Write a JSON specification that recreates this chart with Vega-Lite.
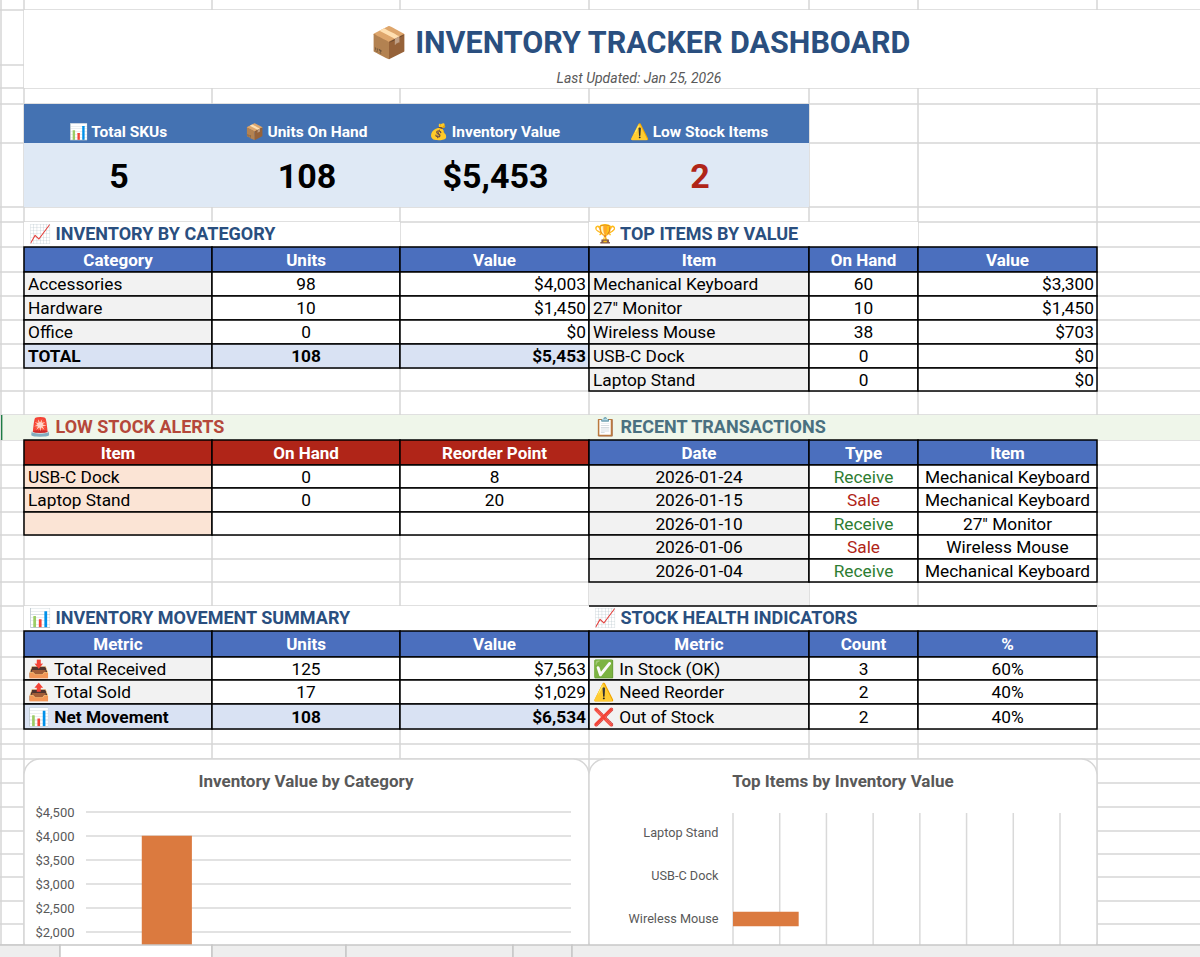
{"$schema":"https://vega.github.io/schema/vega-lite/v6.json","width":1200,"height":957,"autosize":"none","padding":0,"background":"#ffffff","view":{"stroke":null},
"datasets":{
"gridV":[{"c":0},{"c":1},{"c":2},{"c":3},{"c":4},{"c":5},{"c":6},{"c":7}],
"gridH":[{"r":1},{"r":2},{"r":3},{"r":4},{"r":5},{"r":6},{"r":7},{"r":8},{"r":9},{"r":10},{"r":11},{"r":12},{"r":13},{"r":14},{"r":15},{"r":16},{"r":17},{"r":18},{"r":19},{"r":20},{"r":21},{"r":22},{"r":23},{"r":24},{"r":25},{"r":26},{"r":27},{"r":28},{"r":29},{"r":30},{"r":31},{"r":32},{"r":33},{"r":34},{"r":35},{"r":36},{"r":37},{"r":38}],
"covers":[
{"r":1,"re":3,"c":1,"ce":8,"kind":"blank"},{"r":4,"re":5,"c":1,"ce":5,"kind":"kpihead"},{"r":5,"re":6,"c":1,"ce":5,"kind":"kpival"},
{"r":7,"re":8,"c":1,"ce":3,"kind":"blank"},{"r":7,"re":8,"c":4,"ce":6,"kind":"blank"},{"r":15,"re":16,"c":0,"ce":8,"kind":"band"},{"r":15,"re":16,"c":0,"ce":0.06,"kind":"mark"},{"r":22,"re":23,"c":4,"ce":5,"kind":"gray"},{"r":23,"re":24,"c":1,"ce":4,"kind":"blank"},{"r":23,"re":24,"c":4,"ce":7,"kind":"blank"}],
"lines":[{"r":23,"c":4,"ce":7}],
"panels":[{"title":"Inventory Value by Category","c":1,"ce":4,"r":30,"re":39},{"title":"Top Items by Inventory Value","c":4,"ce":7,"r":30,"re":39}],
"tabs":[{"t":0,"te":1,"active":"no","r":38,"re":39},{"t":1,"te":2,"active":"yes","r":38,"re":39},{"t":2,"te":3,"active":"no","r":38,"re":39},{"t":3,"te":4,"active":"no","r":38,"re":39},{"t":4,"te":5,"active":"no","r":38,"re":39},{"t":5,"te":6,"active":"no","r":38,"re":39}],
"category":[{"category":"Accessories","value":4003},{"category":"Hardware","value":1450},{"category":"Office","value":0}],
"catTicks":[{"value":2000,"from":0,"to":1},{"value":2500,"from":0,"to":1},{"value":3000,"from":0,"to":1},{"value":3500,"from":0,"to":1},{"value":4000,"from":0,"to":1},{"value":4500,"from":0,"to":1}],
"items":[{"item":"Laptop Stand","value":0},{"item":"USB-C Dock","value":0},{"item":"Wireless Mouse","value":703},{"item":"27\" Monitor","value":1450},{"item":"Mechanical Keyboard","value":3300}],
"itemTicks":[{"value":0,"from":0,"to":1},{"value":500,"from":0,"to":1},{"value":1000,"from":0,"to":1},{"value":1500,"from":0,"to":1},{"value":2000,"from":0,"to":1},{"value":2500,"from":0,"to":1},{"value":3000,"from":0,"to":1},{"value":3500,"from":0,"to":1}],
"heads":[
{"r":1,"c":1,"t":"📦 INVENTORY TRACKER DASHBOARD","kind":"title"},{"r":2,"c":1,"t":"Last Updated: Jan 25, 2026","kind":"sub"},
{"r":4,"c":1,"t":"📊 Total SKUs","kind":"kpilabel"},{"r":4,"c":2,"t":"📦 Units On Hand","kind":"kpilabel"},{"r":4,"c":3,"t":"💰 Inventory Value","kind":"kpilabel"},{"r":4,"c":4,"t":"⚠️ Low Stock Items","kind":"kpilabel"},
{"r":5,"c":1,"t":"5","kind":"kpi"},{"r":5,"c":2,"t":"108","kind":"kpi"},{"r":5,"c":3,"t":"$5,453","kind":"kpi"},{"r":5,"c":4,"t":"2","kind":"kpialert"}],
"sections":[
{"r":7,"c":1,"t":"📈 INVENTORY BY CATEGORY","tone":"navy"},{"r":7,"c":4,"t":"🏆 TOP ITEMS BY VALUE","tone":"navy"},{"r":15,"c":1,"t":"🚨 LOW STOCK ALERTS","tone":"red"},{"r":15,"c":4,"t":"📋 RECENT TRANSACTIONS","tone":"slate"},{"r":23,"c":1,"t":"📊 INVENTORY MOVEMENT SUMMARY","tone":"navy"},{"r":23,"c":4,"t":"📈 STOCK HEALTH INDICATORS","tone":"navy"}],
"cells":[
{"r":8,"c":1,"ce":2,"kind":"head","t":"Category"},{"r":8,"c":2,"ce":3,"kind":"head","t":"Units"},{"r":8,"c":3,"ce":4,"kind":"head","t":"Value"},
{"r":9,"c":1,"ce":2,"kind":"name","t":"Accessories"},{"r":9,"c":2,"ce":3,"kind":"count","t":"98"},{"r":9,"c":3,"ce":4,"kind":"money","t":"$4,003"},
{"r":10,"c":1,"ce":2,"kind":"name","t":"Hardware"},{"r":10,"c":2,"ce":3,"kind":"count","t":"10"},{"r":10,"c":3,"ce":4,"kind":"money","t":"$1,450"},
{"r":11,"c":1,"ce":2,"kind":"name","t":"Office"},{"r":11,"c":2,"ce":3,"kind":"count","t":"0"},{"r":11,"c":3,"ce":4,"kind":"money","t":"$0"},
{"r":12,"c":1,"ce":2,"kind":"totalname","t":"TOTAL"},{"r":12,"c":2,"ce":3,"kind":"totalcount","t":"108"},{"r":12,"c":3,"ce":4,"kind":"totalmoney","t":"$5,453"},
{"r":8,"c":4,"ce":5,"kind":"head","t":"Item"},{"r":8,"c":5,"ce":6,"kind":"head","t":"On Hand"},{"r":8,"c":6,"ce":7,"kind":"head","t":"Value"},
{"r":9,"c":4,"ce":5,"kind":"name","t":"Mechanical Keyboard"},{"r":9,"c":5,"ce":6,"kind":"count","t":"60"},{"r":9,"c":6,"ce":7,"kind":"money","t":"$3,300"},
{"r":10,"c":4,"ce":5,"kind":"name","t":"27\" Monitor"},{"r":10,"c":5,"ce":6,"kind":"count","t":"10"},{"r":10,"c":6,"ce":7,"kind":"money","t":"$1,450"},
{"r":11,"c":4,"ce":5,"kind":"name","t":"Wireless Mouse"},{"r":11,"c":5,"ce":6,"kind":"count","t":"38"},{"r":11,"c":6,"ce":7,"kind":"money","t":"$703"},
{"r":12,"c":4,"ce":5,"kind":"name","t":"USB-C Dock"},{"r":12,"c":5,"ce":6,"kind":"count","t":"0"},{"r":12,"c":6,"ce":7,"kind":"money","t":"$0"},
{"r":13,"c":4,"ce":5,"kind":"name","t":"Laptop Stand"},{"r":13,"c":5,"ce":6,"kind":"count","t":"0"},{"r":13,"c":6,"ce":7,"kind":"money","t":"$0"},
{"r":16,"c":1,"ce":2,"kind":"redhead","t":"Item"},{"r":16,"c":2,"ce":3,"kind":"redhead","t":"On Hand"},{"r":16,"c":3,"ce":4,"kind":"redhead","t":"Reorder Point"},
{"r":17,"c":1,"ce":2,"kind":"alertname","t":"USB-C Dock"},{"r":17,"c":2,"ce":3,"kind":"count","t":"0"},{"r":17,"c":3,"ce":4,"kind":"count","t":"8"},
{"r":18,"c":1,"ce":2,"kind":"alertname","t":"Laptop Stand"},{"r":18,"c":2,"ce":3,"kind":"count","t":"0"},{"r":18,"c":3,"ce":4,"kind":"count","t":"20"},
{"r":19,"c":1,"ce":2,"kind":"alertname","t":""},{"r":19,"c":2,"ce":3,"kind":"count","t":""},{"r":19,"c":3,"ce":4,"kind":"count","t":""},
{"r":16,"c":4,"ce":5,"kind":"head","t":"Date"},{"r":16,"c":5,"ce":6,"kind":"head","t":"Type"},{"r":16,"c":6,"ce":7,"kind":"head","t":"Item"},
{"r":17,"c":4,"ce":5,"kind":"date","t":"2026-01-24"},{"r":17,"c":5,"ce":6,"kind":"type","t":"Receive"},{"r":17,"c":6,"ce":7,"kind":"count","t":"Mechanical Keyboard"},
{"r":18,"c":4,"ce":5,"kind":"date","t":"2026-01-15"},{"r":18,"c":5,"ce":6,"kind":"type","t":"Sale"},{"r":18,"c":6,"ce":7,"kind":"count","t":"Mechanical Keyboard"},
{"r":19,"c":4,"ce":5,"kind":"date","t":"2026-01-10"},{"r":19,"c":5,"ce":6,"kind":"type","t":"Receive"},{"r":19,"c":6,"ce":7,"kind":"count","t":"27\" Monitor"},
{"r":20,"c":4,"ce":5,"kind":"date","t":"2026-01-06"},{"r":20,"c":5,"ce":6,"kind":"type","t":"Sale"},{"r":20,"c":6,"ce":7,"kind":"count","t":"Wireless Mouse"},
{"r":21,"c":4,"ce":5,"kind":"date","t":"2026-01-04"},{"r":21,"c":5,"ce":6,"kind":"type","t":"Receive"},{"r":21,"c":6,"ce":7,"kind":"count","t":"Mechanical Keyboard"},
{"r":24,"c":1,"ce":2,"kind":"head","t":"Metric"},{"r":24,"c":2,"ce":3,"kind":"head","t":"Units"},{"r":24,"c":3,"ce":4,"kind":"head","t":"Value"},
{"r":25,"c":1,"ce":2,"kind":"name","t":"📥 Total Received"},{"r":25,"c":2,"ce":3,"kind":"count","t":"125"},{"r":25,"c":3,"ce":4,"kind":"money","t":"$7,563"},
{"r":26,"c":1,"ce":2,"kind":"name","t":"📤 Total Sold"},{"r":26,"c":2,"ce":3,"kind":"count","t":"17"},{"r":26,"c":3,"ce":4,"kind":"money","t":"$1,029"},
{"r":27,"c":1,"ce":2,"kind":"totalname","t":"📊 Net Movement"},{"r":27,"c":2,"ce":3,"kind":"totalcount","t":"108"},{"r":27,"c":3,"ce":4,"kind":"totalmoney","t":"$6,534"},
{"r":24,"c":4,"ce":5,"kind":"head","t":"Metric"},{"r":24,"c":5,"ce":6,"kind":"head","t":"Count"},{"r":24,"c":6,"ce":7,"kind":"head","t":"%"},
{"r":25,"c":4,"ce":5,"kind":"name","t":"✅ In Stock (OK)"},{"r":25,"c":5,"ce":6,"kind":"count","t":"3"},{"r":25,"c":6,"ce":7,"kind":"count","t":"60%"},
{"r":26,"c":4,"ce":5,"kind":"name","t":"⚠️ Need Reorder"},{"r":26,"c":5,"ce":6,"kind":"count","t":"2"},{"r":26,"c":6,"ce":7,"kind":"count","t":"40%"},
{"r":27,"c":4,"ce":5,"kind":"name","t":"❌ Out of Stock"},{"r":27,"c":5,"ce":6,"kind":"count","t":"2"},{"r":27,"c":6,"ce":7,"kind":"count","t":"40%"}]
},
"layer":[
{"resolve":{"scale":{"x":"shared","y":"shared","fill":"independent"}},
"layer":[
{"data":{"name":"gridV"},"mark":{"type":"rule","color":"#d6d6d6","strokeWidth":1.5},"encoding":{"x":{"field":"c","type":"quantitative","axis":null,"scale":{"domain":[0,1,2,3,4,5,6,7,8],"range":[1,24,212,400,589,809,918,1097,1200]}}}},
{"data":{"name":"gridH"},"mark":{"type":"rule","color":"#d6d6d6","strokeWidth":1.5},"encoding":{"y":{"field":"r","type":"quantitative","axis":null,"scale":{"domain":[0,1,2,3,4,5,6,7,8,9,10,11,12,13,14,15,16,17,18,19,20,21,22,23,24,25,26,27,28,29,30,31,32,33,34,35,36,37,38,39],"range":[0,10,65,88,104,143,207,222,247,272,296,320,344,368,391,415,440,465,488,512,535,559,582,606,631,657,680,704,729,744,759,783,807,831,854,877,901,924,945,970]}}}},
{"data":{"name":"covers"},"mark":{"type":"rect"},"encoding":{"x":{"field":"c","type":"quantitative","axis":null},"x2":{"field":"ce"},"y":{"field":"r","type":"quantitative","axis":null},"y2":{"field":"re"},"fill":{"field":"kind","type":"nominal","legend":null,"scale":{"domain":["blank","kpihead","kpival","band","mark","gray"],"range":["#ffffff","#4472B2","#DFE9F5","#EFF6EA","#1E7B45","#F2F2F2"]}}}},
{"data":{"name":"cells"},"transform":[{"calculate":"datum.r+1","as":"re"}],"mark":{"type":"rect","stroke":"#000000","strokeWidth":1.5},"encoding":{"x":{"field":"c","type":"quantitative","axis":null},"x2":{"field":"ce"},"y":{"field":"r","type":"quantitative","axis":null},"y2":{"field":"re"},"fill":{"field":"kind","type":"nominal","legend":null,"scale":{"domain":["head","redhead","name","count","money","totalname","totalcount","totalmoney","alertname","date","type"],"range":["#4B6FBE","#B02518","#F2F2F2","#ffffff","#ffffff","#D9E2F3","#D9E2F3","#D9E2F3","#FBE4D5","#F2F2F2","#ffffff"]}}}},
{"data":{"name":"lines"},"mark":{"type":"rule","color":"#000000","strokeWidth":1.5},"encoding":{"x":{"field":"c","type":"quantitative","axis":null},"x2":{"field":"ce"},"y":{"field":"r","type":"quantitative","axis":null}}},
{"data":{"name":"panels"},"mark":{"type":"rect","fill":"#ffffff","stroke":"#d6d6d6","strokeWidth":1.5,"cornerRadius":16},"encoding":{"x":{"field":"c","type":"quantitative","axis":null},"x2":{"field":"ce"},"y":{"field":"r","type":"quantitative","axis":null},"y2":{"field":"re"}}}
]},
{"resolve":{"scale":{"x":"independent","y":"shared"}},
"layer":[
{"data":{"name":"catTicks"},"mark":{"type":"rule","color":"#d9d9d9","strokeWidth":1.5},"encoding":{"x":{"field":"from","type":"quantitative","axis":null,"scale":{"domain":[0,1],"range":[86,571]}},"x2":{"field":"to"},"y":{"field":"value","type":"quantitative","scale":{"domain":[0,4500],"range":[1028,812]},"axis":{"orient":"left","offset":-78,"values":[2000,2500,3000,3500,4000,4500],"format":"$,.0f","title":null,"domain":false,"ticks":false,"tickSize":0,"labelPadding":4,"grid":false,"labelColor":"#595959","labelFont":"Roboto","labelFontSize":13,"zindex":1}}}},
{"data":{"name":"category"},"mark":{"type":"bar","color":"#DB7A3F"},"encoding":{"x":{"field":"category","type":"nominal","axis":null,"sort":null,"scale":{"domain":["Accessories","Hardware","Office"],"range":[86,571],"paddingInner":0.69,"paddingOuter":0.345}},"y":{"field":"value","type":"quantitative"}}}
]},
{"resolve":{"scale":{"x":"shared","y":"independent"}},
"layer":[
{"data":{"name":"itemTicks"},"mark":{"type":"rule","color":"#d9d9d9","strokeWidth":1.5},"encoding":{"x":{"field":"value","type":"quantitative","axis":null,"scale":{"domain":[0,3500],"range":[733,1060]}},"y":{"field":"from","type":"quantitative","axis":null,"scale":{"domain":[0,1],"range":[813,945]}},"y2":{"field":"to"}}},
{"data":{"name":"items"},"mark":{"type":"bar","color":"#DB7A3F"},"encoding":{"x":{"field":"value","type":"quantitative"},"y":{"field":"item","type":"nominal","sort":null,"scale":{"domain":["Laptop Stand","USB-C Dock","Wireless Mouse","27\" Monitor","Mechanical Keyboard"],"range":[811,1027],"paddingInner":0.66,"paddingOuter":0.33},"axis":{"orient":"left","offset":-722,"values":["Laptop Stand","USB-C Dock","Wireless Mouse"],"title":null,"domain":false,"ticks":false,"tickSize":0,"labelPadding":4,"grid":false,"labelColor":"#595959","labelFont":"Roboto","labelFontSize":12.7,"zindex":1}}}}
]},
{"resolve":{"scale":{"x":"independent","y":"shared","color":"independent"}},
"layer":[
{"data":{"name":"panels"},"mark":{"type":"text","font":"Roboto","fontWeight":"bold","fontSize":17,"color":"#595959","dy":11},"encoding":{"text":{"field":"title"},"x":{"field":"c","type":"quantitative","axis":null,"scale":{"domain":[1,4],"range":[306,843]}},"y":{"field":"r","type":"quantitative","axis":null,"scale":{"domain":[1,2,3,4,5,6,7,8,9,10,11,12,13,14,15,16,17,18,19,20,21,22,23,24,25,26,27,28,29,30],"range":[37.5,76.5,96,123.5,175,214.5,234.5,259.5,284,308,332,356,379.5,403,427.5,452.5,476.5,500,523.5,547,570.5,594,618.5,644,668.5,692,716.5,736.5,751.5,771]}}}},
{"data":{"name":"heads"},"transform":[{"filter":"datum.kind=='title'"}],"mark":{"type":"text","font":"Roboto","fontWeight":"bold","fontSize":30.5,"color":"#2A4F7F","dx":522,"dy":-13},"encoding":{"text":{"field":"t"},"x":{"field":"c","type":"quantitative","axis":null,"scale":{"domain":[1,2,3,4,5,6],"range":[118,306,494.5,699,863.5,1007.5]}},"y":{"field":"r","type":"quantitative"}}},
{"data":{"name":"heads"},"transform":[{"filter":"datum.kind=='sub'"}],"mark":{"type":"text","font":"Roboto","fontStyle":"italic","fontSize":14,"color":"#595959","dx":521,"dy":2},"encoding":{"text":{"field":"t"},"x":{"field":"c","type":"quantitative","axis":null,"scale":{"domain":[1,2,3,4,5,6],"range":[118,306,494.5,699,863.5,1007.5]}},"y":{"field":"r","type":"quantitative"}}},
{"data":{"name":"heads"},"transform":[{"filter":"datum.kind=='kpilabel'"}],"mark":{"type":"text","font":"Roboto","fontWeight":"bold","fontSize":15.5,"color":"#ffffff","dy":8},"encoding":{"text":{"field":"t"},"x":{"field":"c","type":"quantitative","axis":null,"scale":{"domain":[1,2,3,4,5,6],"range":[118,306,494.5,699,863.5,1007.5]}},"y":{"field":"r","type":"quantitative"}}},
{"data":{"name":"heads"},"transform":[{"filter":"datum.kind=='kpi'||datum.kind=='kpialert'"}],"mark":{"type":"text","font":"Roboto","fontWeight":"bold","fontSize":34,"dy":3,"dx":1},"encoding":{"text":{"field":"t"},"color":{"field":"kind","type":"nominal","legend":null,"scale":{"domain":["kpi","kpialert"],"range":["#000000","#B02518"]}},"x":{"field":"c","type":"quantitative","axis":null,"scale":{"domain":[1,2,3,4,5,6],"range":[118,306,494.5,699,863.5,1007.5]}},"y":{"field":"r","type":"quantitative"}}},
{"data":{"name":"sections"},"mark":{"type":"text","font":"Roboto","fontWeight":"bold","fontSize":18,"align":"left","dx":5},"encoding":{"text":{"field":"t"},"color":{"field":"tone","type":"nominal","legend":null,"scale":{"domain":["navy","red","slate"],"range":["#2A4F7F","#B5483A","#4A7080"]}},"x":{"field":"c","type":"quantitative","axis":null,"scale":{"domain":[0,1,2,3,4,5,6,7,8],"range":[1,24,212,400,589,809,918,1097,1200]}},"y":{"field":"r","type":"quantitative"}}},
{"data":{"name":"cells"},"transform":[{"filter":"datum.kind=='head'||datum.kind=='redhead'"}],"mark":{"type":"text","font":"Roboto","fontWeight":"bold","fontSize":17,"color":"#ffffff","dy":1},"encoding":{"text":{"field":"t"},"x":{"field":"c","type":"quantitative","axis":null,"scale":{"domain":[1,2,3,4,5,6],"range":[118,306,494.5,699,863.5,1007.5]}},"y":{"field":"r","type":"quantitative"}}},
{"data":{"name":"cells"},"transform":[{"filter":"datum.kind=='count'||datum.kind=='date'||datum.kind=='totalcount'"}],"mark":{"type":"text","font":"Roboto","fontSize":17.3,"color":"#000000","dy":1,"fontWeight":{"expr":"datum.kind=='totalcount'?'bold':'normal'"}},"encoding":{"text":{"field":"t"},"x":{"field":"c","type":"quantitative","axis":null,"scale":{"domain":[1,2,3,4,5,6],"range":[118,306,494.5,699,863.5,1007.5]}},"y":{"field":"r","type":"quantitative"}}},
{"data":{"name":"cells"},"transform":[{"filter":"datum.kind=='type'"}],"mark":{"type":"text","font":"Roboto","fontSize":17.3,"dy":1},"encoding":{"text":{"field":"t"},"color":{"field":"t","type":"nominal","legend":null,"scale":{"domain":["Receive","Sale"],"range":["#2E7D32","#B02518"]}},"x":{"field":"c","type":"quantitative","axis":null,"scale":{"domain":[1,2,3,4,5,6],"range":[118,306,494.5,699,863.5,1007.5]}},"y":{"field":"r","type":"quantitative"}}},
{"data":{"name":"cells"},"transform":[{"filter":"datum.kind=='name'||datum.kind=='alertname'||datum.kind=='totalname'"}],"mark":{"type":"text","font":"Roboto","fontSize":17.3,"color":"#000000","align":"left","dx":4,"dy":1,"fontWeight":{"expr":"datum.kind=='totalname'?'bold':'normal'"}},"encoding":{"text":{"field":"t"},"x":{"field":"c","type":"quantitative","axis":null,"scale":{"domain":[0,1,2,3,4,5,6,7,8],"range":[1,24,212,400,589,809,918,1097,1200]}},"y":{"field":"r","type":"quantitative"}}},
{"data":{"name":"cells"},"transform":[{"filter":"datum.kind=='money'||datum.kind=='totalmoney'"}],"mark":{"type":"text","font":"Roboto","fontSize":17.3,"color":"#000000","align":"right","dx":-3,"dy":1,"fontWeight":{"expr":"datum.kind=='totalmoney'?'bold':'normal'"}},"encoding":{"text":{"field":"t"},"x":{"field":"ce","type":"quantitative","axis":null,"scale":{"domain":[0,1,2,3,4,5,6,7,8],"range":[1,24,212,400,589,809,918,1097,1200]}},"y":{"field":"r","type":"quantitative"}}}
]},
{"data":{"name":"tabs"},"mark":{"type":"rect","stroke":"#c8c8c8","strokeWidth":1.5},"encoding":{"x":{"field":"t","type":"quantitative","axis":null,"scale":{"domain":[0,1,2,3,4,5,6],"range":[-2,60,212,346,513,572,1202]}},"x2":{"field":"te"},"y":{"field":"r","type":"quantitative","axis":null,"scale":{"domain":[38,39],"range":[945,970]}},"y2":{"field":"re"},"fill":{"field":"active","type":"nominal","legend":null,"scale":{"domain":["yes","no"],"range":["#ffffff","#EEEEEE"]}}}}
],
"resolve":{"scale":{"x":"independent","y":"independent","fill":"independent","color":"independent"}}
}
